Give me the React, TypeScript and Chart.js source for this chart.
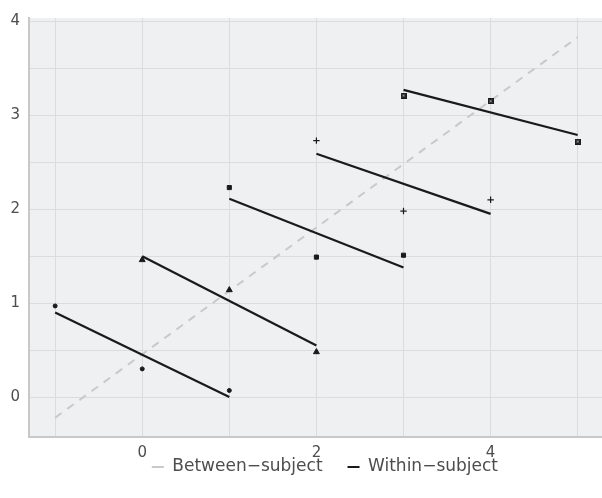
import React, { useEffect, useRef } from "react";
import { Chart, registerables } from "chart.js";

Chart.register(...registerables);

// ---- data ----
const subjectX: number[][] = [
  [-1, 0, 1],
  [0, 1, 2],
  [1, 2, 3],
  [2, 3, 4],
  [3, 4, 5],
];
const subjectY: number[][] = [
  [0.97, 0.3, 0.07],
  [1.46, 1.14, 0.48],
  [2.23, 1.49, 1.51],
  [2.73, 1.98, 2.1],
  [3.21, 3.15, 2.72],
];
const withinStartY = [0.9, 1.5, 2.11, 2.59, 3.27];
const withinEndY = [0.0, 0.55, 1.38, 1.95, 2.79];
const betweenX = [-1, 5];
const betweenY = [-0.22, 3.83];
const xGridValues = [-1, 0, 1, 2, 3, 4, 5];
const xTickLabels = [0, 2, 4];
const yGridValues = [0, 0.5, 1, 1.5, 2, 2.5, 3, 3.5, 4];
const yTickLabels = [0, 1, 2, 3, 4];
const legendLabels = ["Between\u2212subject", "Within\u2212subject"];

const INK = "#1a1a1a";
const DASH = "#c9c9c9";
const GRID = "#dcdcdf";
const AXIS = "#c8c8c8";
const BG = "#eff0f2";
const TEXT = "#4d4d4d";
const FONT = "'DejaVu Sans', sans-serif";

const LEGEND_FONT = 17;
const LEGEND_PAD = 25;
const LEGEND_CENTER_Y = 467;
const LEGEND_SHIFT_X = 3;

function makeSquareCross(): HTMLCanvasElement {
  const c = document.createElement("canvas");
  c.width = 6;
  c.height = 6;
  const g = c.getContext("2d")!;
  g.fillStyle = INK;
  g.fillRect(0, 0, 6, 6);
  g.strokeStyle = "#8a8a8a";
  g.lineWidth = 1;
  g.beginPath();
  g.moveTo(1.5, 1.5);
  g.lineTo(4.5, 4.5);
  g.moveTo(4.5, 1.5);
  g.lineTo(1.5, 4.5);
  g.stroke();
  return c;
}

const bgPlugin = {
  id: "panelBg",
  beforeDraw(chart: any) {
    const { ctx, chartArea } = chart;
    if (!chartArea) return;
    ctx.save();
    ctx.fillStyle = BG;
    ctx.fillRect(chartArea.left, chartArea.top, chartArea.right - chartArea.left, chartArea.bottom - chartArea.top);
    ctx.restore();
  },
};

const legendPlace = {
  id: "legendPlace",
  beforeLayout(chart: any) {
    const l = chart.legend;
    if (l && !l.__patched) {
      const orig = l.fit.bind(l);
      l.fit = function () {
        orig();
        this.height = 37;
      };
      l.__patched = true;
    }
  },
  afterLayout(chart: any) {
    const l = chart.legend;
    if (!l) return;
    const top = LEGEND_CENTER_Y - LEGEND_PAD - LEGEND_FONT / 2;
    l.top = top;
    l.bottom = chart.height;
    l.height = chart.height - top;
    l.left += LEGEND_SHIFT_X;
    l.right += LEGEND_SHIFT_X;
  },
};

export default function App() {
  const ref = useRef<HTMLCanvasElement>(null);

  useEffect(() => {
    document.body.style.margin = "0";
    const styles: any[] = ["circle", "triangle", "rect", "cross", makeSquareCross()];
    const radii = [2, 3.4, 2.9, 3.2, 3.5];

    const datasets: any[] = [];
    datasets.push({
      type: "line",
      order: 3,
      data: betweenX.map((x, i) => ({ x, y: betweenY[i] })),
      borderColor: DASH,
      borderWidth: 2,
      borderDash: [8, 7],
      pointRadius: 0,
      fill: false,
    });
    subjectX.forEach((xs, s) => {
      datasets.push({
        type: "line",
        order: 2,
        data: [
          { x: xs[0], y: withinStartY[s] },
          { x: xs[xs.length - 1], y: withinEndY[s] },
        ],
        borderColor: INK,
        borderWidth: 2.2,
        pointRadius: 0,
        fill: false,
      });
    });
    subjectX.forEach((xs, s) => {
      datasets.push({
        type: "scatter",
        order: 1,
        data: xs.map((x, i) => ({ x, y: subjectY[s][i] })),
        pointStyle: styles[s],
        pointRadius: radii[s],
        backgroundColor: INK,
        borderColor: INK,
        borderWidth: s === 3 ? 1.2 : 1,
        showLine: false,
      });
    });

    const chart = new Chart(ref.current!, {
      type: "scatter",
      data: { datasets },
      options: {
        animation: false,
        responsive: false,
        layout: { padding: { top: 15, right: 2, left: 0, bottom: 0 } },
        plugins: {
          tooltip: { enabled: false },
          legend: {
            position: "bottom",
            fullSize: false,
            align: "center",
            labels: {
              boxWidth: 12,
              boxHeight: 2,
              padding: LEGEND_PAD,
              color: TEXT,
              font: { family: FONT, size: LEGEND_FONT },
              generateLabels: () => [
                { text: legendLabels[0], fillStyle: DASH, strokeStyle: DASH, lineWidth: 0, hidden: false, datasetIndex: 0, fontColor: TEXT },
                { text: legendLabels[1], fillStyle: INK, strokeStyle: INK, lineWidth: 0, hidden: false, datasetIndex: 1, fontColor: TEXT },
              ],
            },
          },
        },
        scales: {
          x: {
            type: "linear",
            min: -1.3,
            max: 5.426,
            afterBuildTicks: (scale: any) => {
              scale.ticks = xGridValues.map((v) => ({ value: v }));
            },
            afterFit: (scale: any) => {
              scale.height = 24;
            },
            ticks: {
              autoSkip: false,
              maxRotation: 0,
              padding: 7,
              color: TEXT,
              font: { family: FONT, size: 15 },
              callback: (v: any) => (xTickLabels.includes(Number(v)) ? String(v) : ""),
            },
            grid: { color: GRID, lineWidth: 1, drawTicks: false },
            border: { display: true, color: AXIS, width: 2 },
          },
          y: {
            type: "linear",
            min: -0.425,
            max: 4.035,
            afterBuildTicks: (scale: any) => {
              scale.ticks = yGridValues.map((v) => ({ value: v }));
            },
            afterFit: (scale: any) => {
              scale.width = 29;
            },
            ticks: {
              autoSkip: false,
              padding: 9,
              color: TEXT,
              font: { family: FONT, size: 15 },
              callback: (v: any) => (yTickLabels.includes(Number(v)) ? String(v) : ""),
            },
            grid: { color: GRID, lineWidth: 1, drawTicks: false },
            border: { display: true, color: AXIS, width: 2 },
          },
        },
      },
      plugins: [bgPlugin, legendPlace],
    });
    return () => chart.destroy();
  }, []);

  return (
    <div style={{ width: 602, height: 498, overflow: "hidden", background: "#ffffff" }}>
      <canvas ref={ref} width={620} height={498} style={{ display: "block", width: 620, height: 498 }} />
    </div>
  );
}
